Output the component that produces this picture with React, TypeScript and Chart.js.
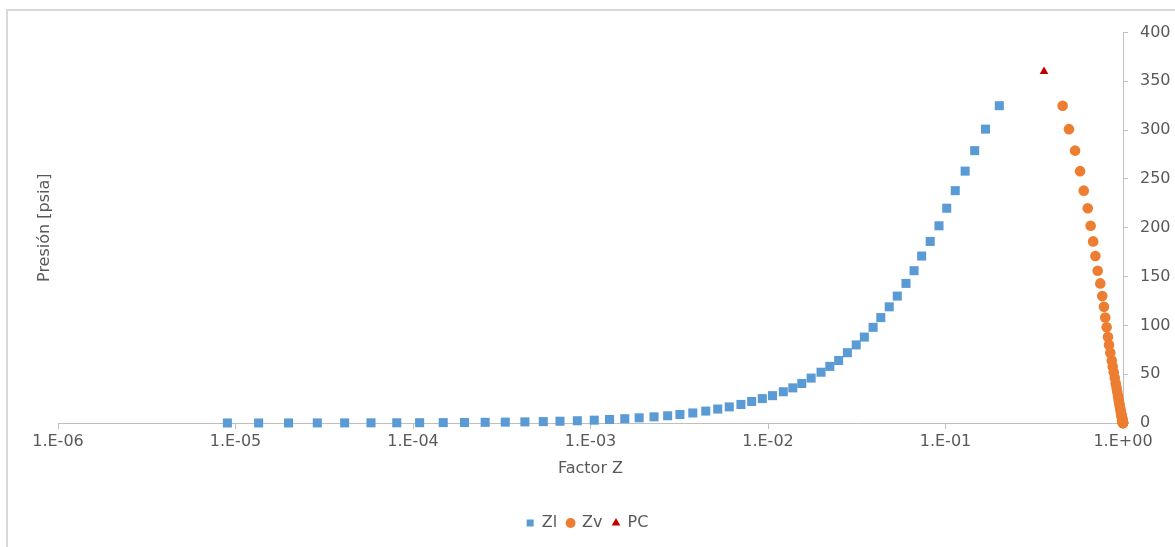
import React, { useEffect, useRef } from 'react';
import { Chart, registerables } from 'chart.js';
Chart.register(...registerables);

// Pressure levels (psia) shared by liquid and vapour Z factors
const presion = [325, 301, 279, 258, 238, 220, 202, 186, 171, 156, 143, 130, 119, 108, 98, 88, 80, 72, 64, 58,
  52, 46, 40.5, 36, 32, 28, 25, 22, 19, 16.5, 14.3, 12.2, 10.3, 8.7, 7.4, 6.3, 5.3, 4.4, 3.6, 2.9,
  2.3, 1.8, 1.45, 1.15, 0.9, 0.7, 0.53, 0.4, 0.3, 0.22, 0.16, 0.11, 0.08, 0.055, 0.037, 0.025];

const zl = [0.201, 0.168, 0.146, 0.129, 0.1135, 0.1016, 0.0919, 0.082, 0.0734, 0.0665,
  0.0599, 0.0535, 0.0482, 0.0432, 0.0391, 0.0349, 0.0314, 0.028, 0.025, 0.0223,
  0.0199, 0.0175, 0.0155, 0.0138, 0.0122, 0.0106, 0.00929, 0.00809, 0.00704, 0.00605,
  0.00521, 0.00446, 0.00377, 0.00319, 0.00272, 0.00228, 0.00188, 0.00156, 0.00128, 0.00105,
  0.000843, 0.000673, 0.000542, 0.000427, 0.000331, 0.000255, 0.000195, 0.000148, 0.000109, 0.000081,
  0.000058, 0.0000412, 0.0000289, 0.0000199, 0.0000135, 0.000009];

const zv = [0.457, 0.496, 0.537, 0.573, 0.601, 0.633, 0.657, 0.679, 0.699, 0.72,
  0.745, 0.764, 0.781, 0.794, 0.809, 0.823, 0.834, 0.848, 0.864, 0.875,
  0.887, 0.899, 0.91, 0.92, 0.928, 0.937, 0.943, 0.949, 0.956, 0.961,
  0.966, 0.971, 0.975, 0.979, 0.982, 0.985, 0.987, 0.989, 0.991, 0.993,
  0.994, 0.995, 0.996, 0.997, 0.998, 0.998, 0.999, 0.999, 0.999, 0.9995,
  0.9996, 0.9997, 0.9998, 0.9998, 0.9999, 0.9999];

const pcZ = [0.359];
const pcP = [360];

const xTickValues = [1e-6, 1e-5, 1e-4, 1e-3, 1e-2, 1e-1, 1];
const xTickLabels = ['1.E-06', '1.E-05', '1.E-04', '1.E-03', '1.E-02', '1.E-01', '1.E+00'];
const yTickValues = [0, 50, 100, 150, 200, 250, 300, 350, 400];

const TEXT = '#595959';
const LINE = '#bfbfbf';

export default function App() {
  const ref = useRef<HTMLCanvasElement>(null);
  useEffect(() => {
    const font = { family: '"DejaVu Sans", sans-serif', size: 16 };
    const chart = new Chart(ref.current!, {
      type: 'scatter',
      data: {
        datasets: [
          {
            label: 'Zl',
            data: zl.map((z, i) => ({ x: z, y: presion[i] })),
            pointStyle: 'rect',
            pointRadius: 6.4,
            backgroundColor: '#5b9bd5',
            borderColor: '#5b9bd5',
            borderWidth: 0,
            clip: false,
          },
          {
            label: 'Zv',
            data: zv.map((z, i) => ({ x: z, y: presion[i] })),
            pointStyle: 'circle',
            pointRadius: 5.3,
            backgroundColor: '#ed7d31',
            borderColor: '#ed7d31',
            borderWidth: 0,
            clip: false,
          },
          {
            label: 'PC',
            data: pcZ.map((z, i) => ({ x: z, y: pcP[i] })),
            pointStyle: 'triangle',
            pointRadius: 5,
            backgroundColor: '#c00000',
            borderColor: '#c00000',
            borderWidth: 0,
            clip: false,
          },
        ],
      } as any,
      options: {
        animation: false,
        responsive: false,
        layout: { padding: { left: 0, right: 0, top: 32.5, bottom: 6 } },
        plugins: {
          legend: {
            position: 'bottom',
            labels: {
              usePointStyle: true,
              boxWidth: 7,
              boxHeight: 7,
              padding: 10,
              color: TEXT,
              font,
            },
          },
          tooltip: { enabled: false },
        },
        scales: {
          x: {
            type: 'logarithmic',
            position: 'bottom',
            min: 1e-6,
            max: 1,
            afterBuildTicks: (s: any) => {
              s.ticks = xTickValues.map((v) => ({ value: v }));
            },
            afterFit: (s: any) => {
              s.height = 82;
            },
            ticks: {
              autoSkip: false,
              maxRotation: 0,
              color: TEXT,
              font,
              padding: 3,
              callback: (_v: any, i: number) => xTickLabels[i],
            },
            grid: { display: true, drawOnChartArea: false, drawTicks: true, tickLength: 6, color: LINE },
            border: { display: true, color: LINE, width: 1 },
            title: { display: true, text: 'Factor Z', color: TEXT, font, padding: { top: 0, bottom: 27 } },
          },
          y: {
            type: 'linear',
            position: 'right',
            min: 0,
            max: 400,
            afterBuildTicks: (s: any) => {
              s.ticks = yTickValues.map((v) => ({ value: v }));
            },
            afterFit: (s: any) => {
              s.width = 52;
            },
            ticks: { color: TEXT, font, padding: 12 },
            grid: { display: true, drawOnChartArea: false, drawTicks: true, tickLength: 5, color: LINE },
            border: { display: true, color: LINE, width: 1 },
          },
          yTitle: {
            type: 'linear',
            position: 'left',
            min: 0,
            max: 400,
            afterFit: (s: any) => {
              s.width = 58;
            },
            ticks: { display: false },
            grid: { display: false, drawTicks: false },
            border: { display: false },
            title: { display: true, text: 'Presión [psia]', color: TEXT, font, padding: { top: 35, bottom: 0 } },
          },
        },
      } as any,
    });
    return () => chart.destroy();
  }, []);

  return (
    <div style={{ position: 'fixed', left: 0, top: 0, width: 1175, height: 547, overflow: 'hidden', background: '#fff' }}>
      <div
        style={{
          position: 'absolute',
          left: 6,
          top: 9,
          width: 1250,
          height: 650,
          border: '2px solid #d9d9d9',
        }}
      />
      <canvas ref={ref} width={1175} height={547} style={{ position: 'absolute', left: 0, top: 0, width: 1175, height: 547 }} />
    </div>
  );
}
